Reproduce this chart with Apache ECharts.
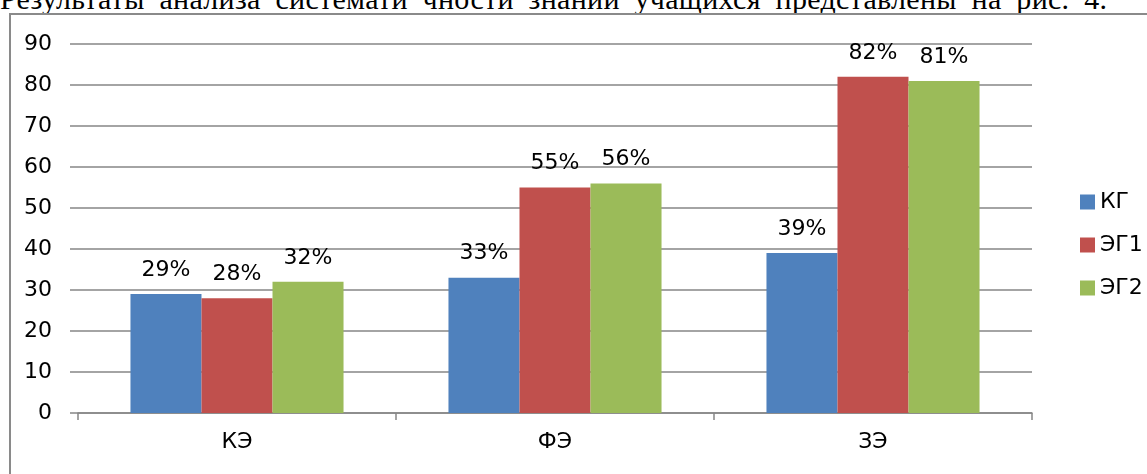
<!DOCTYPE html>
<html>
<head>
<meta charset="utf-8">
<script src="https://cdn.jsdelivr.net/npm/echarts@6/dist/echarts.min.js"></script>
<style>
html,body{margin:0;padding:0;width:1147px;height:474px;overflow:hidden;background:#fff;}
#caption{position:absolute;left:0;top:-16px;white-space:nowrap;font-family:"Liberation Serif","Times New Roman",serif;font-size:30px;line-height:30px;word-spacing:7px;letter-spacing:0.3px;color:#000;}
#frame{position:absolute;left:9px;top:13px;width:1200px;height:500px;border:2px solid #8a8a8a;box-sizing:border-box;}
#chart{position:absolute;left:0;top:0;width:1147px;height:474px;}
</style>
</head>
<body>
<div id="caption">Результаты анализа системати чности знаний учащихся представлены на рис. 4.</div>
<div id="frame"></div>
<div id="chart"></div>
<script>
const categories = ['КЭ', 'ФЭ', 'ЗЭ'];
const seriesNames = ['КГ', 'ЭГ1', 'ЭГ2'];
const valuesKG = [29, 33, 39];
const valuesEG1 = [28, 55, 82];
const valuesEG2 = [32, 56, 81];
const yTicks = [0, 10, 20, 30, 40, 50, 60, 70, 80, 90];
const colors = ['#4f81bd', '#c0504d', '#9bbb59'];

const font = '"DejaVu Sans", sans-serif';
const fs = 22;
const chart = echarts.init(document.getElementById('chart'));
const allValues = [valuesKG, valuesEG1, valuesEG2];
chart.setOption({
  animation: false,
  textStyle: {fontFamily: font},
  grid: {left: 78, right: 115, top: 44, bottom: 61},
  legend: {
    orient: 'vertical', left: 1075, top: 186,
    itemWidth: 15, itemHeight: 15, itemGap: 21,
    icon: 'rect',
    textStyle: {fontFamily: font, fontSize: fs, color: '#000'},
    data: seriesNames
  },
  xAxis: {
    type: 'category', data: categories,
    axisLine: {lineStyle: {color: '#868686', width: 1.5}},
    axisTick: {show: true, length: 7, lineStyle: {color: '#868686', width: 1.5}},
    axisLabel: {fontSize: fs, color: '#000', margin: 18, fontFamily: font}
  },
  yAxis: {
    type: 'value', min: yTicks[0], max: yTicks[yTicks.length - 1], interval: 10,
    axisLine: {show: false},
    axisTick: {show: true, length: 8, lineStyle: {color: '#868686', width: 1.5}},
    splitLine: {lineStyle: {color: '#868686', width: 1.5}},
    axisLabel: {fontSize: fs, color: '#000', margin: 26, fontFamily: font}
  },
  series: seriesNames.map((n, i) => ({
    name: n, type: 'bar', data: allValues[i],
    barGap: '0%', barCategoryGap: '33%',
    itemStyle: {color: colors[i]},
    label: {show: true, position: 'top', distance: 13, formatter: '{c}%', fontSize: fs, color: '#000', fontFamily: font}
  }))
});
</script>
</body>
</html>
